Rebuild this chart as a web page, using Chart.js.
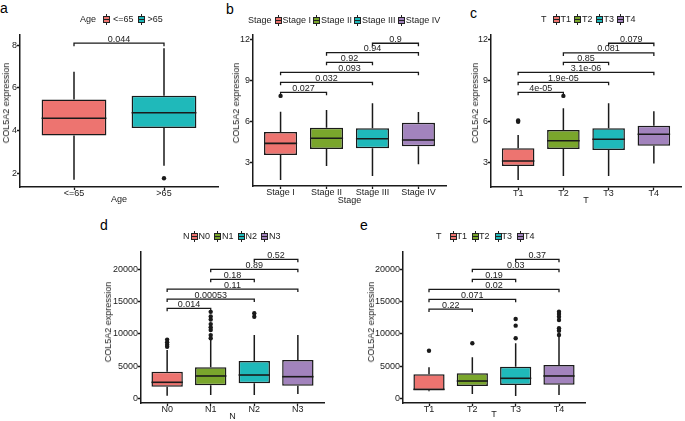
<!DOCTYPE html>
<html lang="en">
<head>
<meta charset="UTF-8">
<title>COL5A2 expression</title>
<script src="https://cdn.jsdelivr.net/npm/chart.js"></script>
<style>
  body { margin: 0; width: 685px; height: 421px; overflow: hidden; background: #fff; position: relative;
         font-family: 'Liberation Sans', Arial, sans-serif; color: #222; }
  canvas { position: absolute; }
  .tag { position: absolute; font-size: 14px; line-height: 14px; color: #000; }
  .ytitle { position: absolute; font-size: 9px; line-height: 10px; white-space: nowrap;
            transform: translate(-50%, -50%) rotate(-90deg); }
  .legend { position: absolute; display: flex; align-items: center; font-size: 9px; height: 12px; white-space: nowrap; }
  .key { position: relative; display: inline-block; width: 5px; height: 5px; border: 1px solid #222; }
  .key::before, .key::after { content: ''; position: absolute; left: 2px; width: 1px; height: 2px; background: #222; }
  .key::before { top: -3px; }
  .key::after { bottom: -3px; }
</style>
</head>
<body>
<div class="tag" style="left:0px;top:1px">a</div>
<div class="tag" style="left:226px;top:2px">b</div>
<div class="tag" style="left:470px;top:6px">c</div>
<div class="tag" style="left:100px;top:218px">d</div>
<div class="tag" style="left:360px;top:218px">e</div>

<script>
  // ---- data ----
  const red = '#ED7470', green = '#7AA62C', teal = '#1FB9BA', purple = '#A283BD';

  // a: Age
  const aCats = ['<=65', '>65'];
  const aLower = [1.72, 2.37];
  const aQ1 = [3.78, 4.13];
  const aMedian = [4.59, 4.84];
  const aQ3 = [5.46, 5.64];
  const aUpper = [6.76, 7.85];
  const aOutliers = [[], [1.79]];
  const aTicks = [2, 4, 6, 8];
  const aPairs = [[1, 2]];
  const aBracketY = [8.09];
  const aPValues = ['0.044'];

  // b: Stage
  const bCats = ['Stage I', 'Stage II', 'Stage III', 'Stage IV'];
  const bLower = [1.74, 2.76, 2.03, 2.88];
  const bQ1 = [3.56, 4.0, 4.05, 4.19];
  const bMedian = [4.41, 4.78, 4.75, 4.65];
  const bQ3 = [5.24, 5.55, 5.51, 5.92];
  const bUpper = [6.72, 6.84, 7.33, 6.70];
  const bOutliers = [[7.87], [], [], []];
  const bTicks = [3, 6, 9, 12];
  const bPairs = [[1, 2], [1, 3], [1, 4], [2, 3], [2, 4], [3, 4]];
  const bBracketY = [8.13, 8.86, 9.59, 10.32, 11.02, 11.71];
  const bPValues = ['0.027', '0.032', '0.093', '0.92', '0.94', '0.9'];

  // c: T
  const cCats = ['T1', 'T2', 'T3', 'T4'];
  const cLower = [1.74, 2.03, 2.03, 2.95];
  const cQ1 = [2.76, 4.0, 3.93, 4.24];
  const cMedian = [3.12, 4.6, 4.71, 5.07];
  const cQ3 = [4.05, 5.39, 5.51, 5.70];
  const cUpper = [5.02, 6.97, 7.33, 6.75];
  const cOutliers = [[5.98, 6.08], [7.87], [], []];
  const cTicks = [3, 6, 9, 12];
  const cPairs = [[1, 2], [1, 3], [1, 4], [2, 3], [2, 4], [3, 4]];
  const cBracketY = [8.13, 8.86, 9.59, 10.32, 11.0, 11.71];
  const cPValues = ['4e-05', '1.9e-05', '3.1e-06', '0.85', '0.081', '0.079'];

  // d: N
  const dCats = ['N0', 'N1', 'N2', 'N3'];
  const dLower = [400, 510, 510, 670];
  const dQ1 = [1800, 2010, 2320, 1960];
  const dMedian = [2480, 3460, 3610, 3350];
  const dQ3 = [4130, 4800, 5780, 5940];
  const dUpper = [7490, 9040, 9810, 9810];
  const dOutliers = [[9100, 8700, 8300, 8000], [13400, 12700, 12200, 11500, 11000, 10600, 9800, 9300], [13180, 12650], []];
  const dTicks = [0, 5000, 10000, 15000, 20000];
  const dPairs = [[1, 2], [1, 3], [1, 4], [2, 3], [2, 4], [3, 4]];
  const dBracketY = [13950, 15390, 16940, 18440, 20000, 21550];
  const dPValues = ['0.014', '0.00053', '0.11', '0.18', '0.89', '0.52'];

  // e: T (counts)
  const eCats = ['T1', 'T2', 'T3', 'T4'];
  const eLower = [1100, 670, 360, 510];
  const eQ1 = [1250, 1910, 2060, 2110];
  const eMedian = [1380, 2680, 3100, 3460];
  const eQ3 = [3720, 3870, 4900, 5160];
  const eUpper = [4800, 6350, 8530, 9500];
  const eOutliers = [[7380], [8530], [12290, 11260, 9300], [13430, 13070, 12650, 12140, 10850, 10480, 9810]];
  const eTicks = [0, 5000, 10000, 15000, 20000];
  const ePairs = [[1, 2], [1, 3], [1, 4], [2, 3], [2, 4], [3, 4]];
  const eBracketY = [13840, 15350, 16900, 18440, 20000, 21550];
  const ePValues = ['0.22', '0.071', '0.02', '0.19', '0.03', '0.37'];

  const FONT = "'Liberation Sans', Arial, sans-serif";
  const INK = '#1a1a1a';

  // whiskers behind the boxes, medians + significance brackets on top
  function boxExtras(p) {
    return {
      id: 'boxExtras',
      beforeDatasetsDraw(chart) {
        const { ctx, scales: { x, y } } = chart;
        ctx.save();
        ctx.strokeStyle = INK;
        ctx.lineWidth = 1.5;
        p.lower.forEach((lo, i) => {
          const px = x.getPixelForValue(i + 1);
          ctx.beginPath();
          ctx.moveTo(px, y.getPixelForValue(lo));
          ctx.lineTo(px, y.getPixelForValue(p.q1[i]));
          ctx.moveTo(px, y.getPixelForValue(p.q3[i]));
          ctx.lineTo(px, y.getPixelForValue(p.upper[i]));
          ctx.stroke();
        });
        ctx.restore();
      },
      afterDatasetsDraw(chart) {
        const { ctx, scales: { x, y } } = chart;
        const bars = chart.getDatasetMeta(1).data;
        ctx.save();
        ctx.strokeStyle = INK;
        ctx.lineWidth = 1.6;
        p.median.forEach((m, i) => {
          const b = bars[i];
          const py = y.getPixelForValue(m);
          ctx.beginPath();
          ctx.moveTo(b.x - b.width / 2, py);
          ctx.lineTo(b.x + b.width / 2, py);
          ctx.stroke();
        });
        // brackets
        ctx.lineWidth = 1.3;
        ctx.fillStyle = '#222';
        ctx.font = '9px ' + FONT;
        ctx.textAlign = 'center';
        ctx.textBaseline = 'alphabetic';
        p.pairs.forEach((pr, i) => {
          const x1 = x.getPixelForValue(pr[0]);
          const x2 = x.getPixelForValue(pr[1]);
          const py = y.getPixelForValue(p.bracketY[i]);
          ctx.beginPath();
          ctx.moveTo(x1, py + 3);
          ctx.lineTo(x1, py);
          ctx.lineTo(x2, py);
          ctx.lineTo(x2, py + 3);
          ctx.stroke();
          ctx.fillText(p.pvals[i], (x1 + x2) / 2, py - 1.5);
        });
        ctx.restore();
      }
    };
  }

  function addLegend(lg, title, cats, cols) {
    const div = document.createElement('div');
    div.className = 'legend';
    div.style.left = lg.x + 'px';
    div.style.top = (lg.y - 6) + 'px';
    const t = document.createElement('span');
    t.textContent = title;
    t.style.marginRight = lg.gaps[0] + 'px';
    div.appendChild(t);
    cats.forEach((c, i) => {
      const k = document.createElement('span');
      k.className = 'key';
      k.style.background = `linear-gradient(${cols[i]} 0 2px, #222 2px 3px, ${cols[i]} 3px)`;
      k.style.marginRight = lg.gaps[1] + 'px';
      const s = document.createElement('span');
      s.textContent = c;
      s.style.marginRight = lg.gaps[2] + 'px';
      div.append(k, s);
    });
    document.body.appendChild(div);
  }

  function addYTitle(cx, cy) {
    const d = document.createElement('div');
    d.className = 'ytitle';
    d.textContent = 'COL5A2 expression';
    d.style.left = cx + 'px';
    d.style.top = cy + 'px';
    document.body.appendChild(d);
  }

  function drawPanel(p) {
    const cv = document.createElement('canvas');
    cv.width = p.box[2];
    cv.height = p.box[3];
    cv.style.left = p.box[0] + 'px';
    cv.style.top = p.box[1] + 'px';
    document.body.appendChild(cv);

    const n = p.cats.length;
    const boxes = p.q1.map((v, i) => ({ x: i + 1, y: [v, p.q3[i]] }));
    const outs = [];
    p.outliers.forEach((arr, i) => arr.forEach(v => outs.push({ x: i + 1, y: v })));

    const tickFont = { family: FONT, size: 9, lineHeight: 0.8 };
    const grid = { offset: false, drawOnChartArea: false, drawTicks: true, tickLength: 3, tickColor: INK, tickWidth: 1.3 };
    const border = { display: true, color: INK, width: 1.5 };

    new Chart(cv, {
      type: 'bar',
      data: {
        datasets: [
          { type: 'scatter', data: outs, pointRadius: 2.2, pointBackgroundColor: INK, pointBorderWidth: 0 },
          { data: boxes, backgroundColor: p.colors, borderColor: INK, borderWidth: 1.5, borderSkipped: false,
            barPercentage: 0.72, categoryPercentage: 1 }
        ]
      },
      options: {
        responsive: false,
        animation: false,
        devicePixelRatio: 1,
        layout: { padding: { left: 0, top: p.padTop, right: p.padRight, bottom: 0 } },
        plugins: { legend: { display: false }, tooltip: { enabled: false } },
        scales: {
          x: {
            type: 'linear', min: 0.4, max: n + 0.6, offset: false,
            afterBuildTicks: s => { s.ticks = p.cats.map((c, i) => ({ value: i + 1 })); },
            afterFit: s => { s.height = p.xh; },
            ticks: { callback: (v, i) => p.cats[i], autoSkip: false, maxRotation: 0, padding: 0, color: '#222', font: tickFont },
            grid: grid, border: border,
            title: { display: true, text: p.xTitle, color: '#222', font: { family: FONT, size: 9 },
                     padding: { top: 0, bottom: p.xTitlePad } }
          },
          y: {
            type: 'linear', min: p.ymin, max: p.ymax,
            afterBuildTicks: s => { s.ticks = p.yTicks.map(v => ({ value: v })); },
            afterFit: s => { s.width = p.yw; },
            ticks: { callback: v => String(v), padding: 0, color: '#222', font: tickFont },
            grid: grid, border: border
          }
        }
      },
      plugins: [boxExtras(p)]
    });
  }

  const c4 = [red, green, teal, purple];

  drawPanel({ box: [0, 0, 226, 207], yw: 20, padTop: 35, padRight: 8, xh: 20, xTitlePad: 1.6, ymin: 1.38, ymax: 8.47,
    cats: aCats, lower: aLower, q1: aQ1, median: aMedian, q3: aQ3, upper: aUpper, outliers: aOutliers,
    yTicks: aTicks, pairs: aPairs, bracketY: aBracketY, pvals: aPValues, colors: [red, teal], xTitle: 'Age' });
  drawPanel({ box: [228, 0, 222, 206], yw: 25, padTop: 35, padRight: 3, xh: 20, xTitlePad: -0.4, ymin: 1.30, ymax: 12.31,
    cats: bCats, lower: bLower, q1: bQ1, median: bMedian, q3: bQ3, upper: bUpper, outliers: bOutliers,
    yTicks: bTicks, pairs: bPairs, bracketY: bBracketY, pvals: bPValues, colors: c4, xTitle: 'Stage' });
  drawPanel({ box: [465, 0, 220, 207], yw: 26, padTop: 35, padRight: 1, xh: 20, xTitlePad: 1.3, ymin: 1.23, ymax: 12.31,
    cats: cCats, lower: cLower, q1: cQ1, median: cMedian, q3: cQ3, upper: cUpper, outliers: cOutliers,
    yTicks: cTicks, pairs: cPairs, bracketY: cBracketY, pvals: cPValues, colors: c4, xTitle: 'T' });
  drawPanel({ box: [100, 240, 230, 183], yw: 41, padTop: 12, padRight: 6, xh: 20, xTitlePad: 0.6, ymin: -729, ymax: 22682,
    cats: dCats, lower: dLower, q1: dQ1, median: dMedian, q3: dQ3, upper: dUpper, outliers: dOutliers,
    yTicks: dTicks, pairs: dPairs, bracketY: dBracketY, pvals: dPValues, colors: c4, xTitle: 'N' });
  drawPanel({ box: [355, 240, 235, 183], yw: 48, padTop: 12, padRight: 5, xh: 20, xTitlePad: 3.3, ymin: -729, ymax: 22682,
    cats: eCats, lower: eLower, q1: eQ1, median: eMedian, q3: eQ3, upper: eUpper, outliers: eOutliers,
    yTicks: eTicks, pairs: ePairs, bracketY: eBracketY, pvals: ePValues, colors: c4, xTitle: 'T' });

  addLegend({ x: 80, y: 19, gaps: [7, 3, 4] }, 'Age', aCats, [red, teal]);
  addLegend({ x: 248, y: 20, gaps: [3, 1, 2] }, 'Stage', bCats, c4);
  addLegend({ x: 541, y: 19, gaps: [6, 1, 3] }, 'T', cCats, c4);
  addLegend({ x: 183, y: 236, gaps: [1, 1, 4] }, 'N', dCats, c4);
  addLegend({ x: 436, y: 236, gaps: [8, 0, 5] }, 'T', eCats, c4);

  addYTitle(6, 103);
  addYTitle(236, 103);
  addYTitle(475, 103);
  addYTitle(108, 322);
  addYTitle(371, 322);
</script>
</body>
</html>
